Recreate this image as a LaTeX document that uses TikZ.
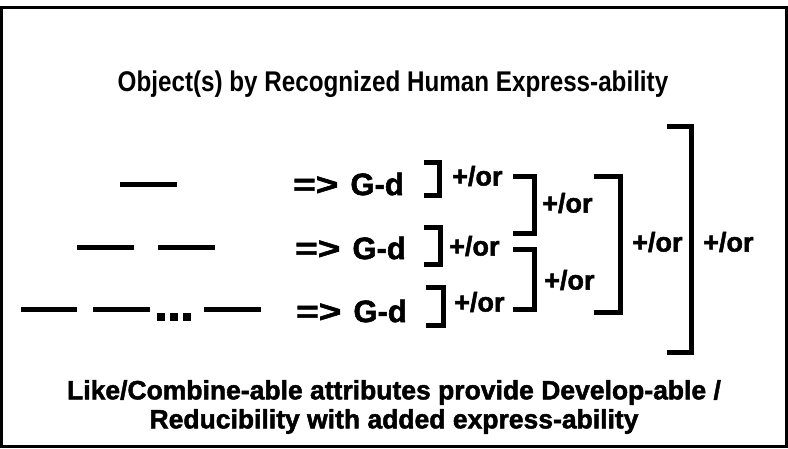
\documentclass[tikz,border=0pt]{standalone}
\usepackage{fontspec}
\setmainfont{Liberation Sans}
\newfontfamily\heavyfont{Liberation Sans Bold}[FakeBold=1.8]
\usetikzlibrary{positioning}
\tikzset{
  bar/.style={line width=5pt},
  brk/.style={line width=5pt, line join=miter},
  orlbl/.style={font=\heavyfont\fontsize{27}{29}\selectfont, inner sep=0pt, anchor=west},
  gdlbl/.style={font=\heavyfont\fontsize{31}{33}\selectfont, inner sep=0pt, anchor=west},
}

\begin{document}
\begin{tikzpicture}[x=1pt,y=-1pt]
\useasboundingbox (0,0) rectangle (788,448);
\draw[line width=3pt] (1.5,7) rectangle (786.5,446.5);

\node[font=\bfseries\fontsize{28.5}{30}\selectfont, xscale=0.85] (title) at (393,84) {Object(s) by Recognized Human Express-ability};

% strokes
\draw[bar] (120,184) -- (177,184);
\draw[bar] (77,247) -- (134,247);
\draw[bar] (158,247) -- (215,247);
\draw[bar] (21,309) -- (77,309);
\draw[bar] (93,309) -- (150,309);
\foreach \d in {161,174,187}
  \fill (\d-4,313) rectangle (\d+4,321);
\draw[bar] (204,309) -- (261,309);

% rows
\node[gdlbl] (gd1) at (293,184) {\scalebox{1.25}[1]{=>}\hspace{12pt}G-d};
\node[gdlbl] (gd2) at (295,248) {\scalebox{1.25}[1]{=>}\hspace{12pt}G-d};
\node[gdlbl] (gd3) at (296,311) {\scalebox{1.25}[1]{=>}\hspace{12pt}G-d};

% brackets
\coordinate (b1nw) at (424,162); \coordinate (b1se) at (439,195);
\coordinate (b2nw) at (424,227); \coordinate (b2se) at (440,264);
\coordinate (b3nw) at (426,287); \coordinate (b3se) at (443,325);
\coordinate (banw) at (513,176); \coordinate (base) at (534,233);
\coordinate (bbnw) at (513,249); \coordinate (bbse) at (534,309);
\coordinate (bcnw) at (594,176); \coordinate (bcse) at (620,312);
\coordinate (bdnw) at (667,126); \coordinate (bdse) at (691,352);
\foreach \b in {b1,b2,b3,ba,bb,bc,bd}
  \draw[brk] (\b nw) -| (\b se) -- (\b nw |- \b se);

\node[orlbl] (or1) at (452,176) {+/or};
\node[orlbl] (or2) at (449,246) {+/or};
\node[orlbl] (or3) at (454,302) {+/or};
\node[orlbl] (ora) at (542,203) {+/or};
\node[orlbl] (orb) at (544,280) {+/or};
\node[orlbl] (orc) at (632,242) {+/or};
\node[orlbl] (ord) at (703,242) {+/or};

\node[font=\heavyfont\fontsize{26.5}{29}\selectfont, align=center] (note) at (394,407)
  {Like/Combine-able attributes provide Develop-able /\\Reducibility with added express-ability};
\end{tikzpicture}
\end{document}
